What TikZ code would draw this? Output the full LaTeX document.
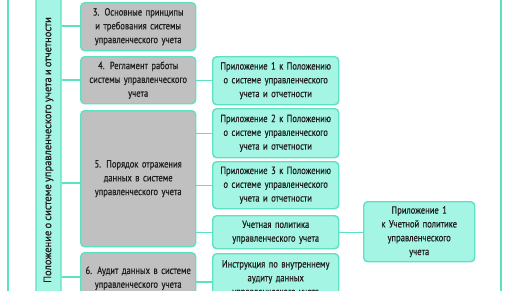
\documentclass[tikz,border=0pt]{standalone}
\usepackage{fontspec}
\setmainfont{PT Sans}[FakeStretch=0.82, WordSpace=0.7, FakeBold=0.5]
\newfontfamily\widefont{PT Sans}[FakeStretch=0.97, WordSpace=0.8, FakeBold=0.5]
\definecolor{tealline}{RGB}{92,226,194}
\definecolor{tealfill}{RGB}{164,245,228}
\definecolor{grayfill}{RGB}{192,192,192}
\definecolor{txt}{RGB}{30,30,30}
\tikzset{
  base/.style={draw=tealline, line width=1.4pt, rounded corners=4pt, align=center,
    inner sep=0pt, anchor=north west, text=txt,
    font=\fontsize{10.4}{13.8}\selectfont},
  gbox/.style={base, fill=grayfill},
  tbox/.style={base, fill=tealfill},
  conn/.style={draw=tealline, line width=1.4pt},
}
\begin{document}
\begin{tikzpicture}[x=1pt,y=-1pt]
\useasboundingbox (0,0) rectangle (516,290);
\clip (0,0) rectangle (516,290);
\fill[white] (0,0) rectangle (516,290);
% frame lines
\coordinate (lt) at (8,-5); \coordinate (lb) at (8,300);
\coordinate (rt) at (501,-5); \coordinate (rb) at (501,300);
\draw[conn] (lt) -- (lb);
\draw[conn] (rt) -- (rb);
% tall box
\node[base, fill=tealfill, anchor=center, rotate=90, minimum width=330pt, minimum height=25pt,
  font=\widefont\fontsize{10.8}{13}\selectfont]
  (tall) at (48.5,150) {Положение о системе управленческого учета и отчетности};
% gray boxes
\node[gbox, minimum width=115pt, minimum height=48pt, text width=110pt] (b3) at (80,2)
  {3. Основные принципы\\и требования системы\\управленческого учета};
\node[gbox, minimum width=115pt, minimum height=47pt, text width=110pt] (b4) at (80,56)
  {4. Регламент работы\\системы управленческого\\учета};
\node[gbox, minimum width=115pt, minimum height=136pt, text width=110pt] (b5) at (80,110)
  {5. Порядок отражения\\данных в системе\\управленческого учета};
\node[gbox, minimum width=115pt, minimum height=51pt, text width=110pt] (b6) at (80,252)
  {6. Аудит данных в системе\\управленческого учета};
% teal boxes
\node[tbox, minimum width=126pt, minimum height=48pt, text width=120pt] (a1) at (212,56)
  {Приложение 1 к Положению\\о системе управленческого\\учета и отчетности};
\node[tbox, minimum width=126pt, minimum height=49pt, text width=120pt] (a2) at (212,108)
  {Приложение 2 к Положению\\о системе управленческого\\учета и отчетности};
\node[tbox, minimum width=126pt, minimum height=47pt, text width=120pt] (a3) at (212,161)
  {Приложение 3 к Положению\\о системе управленческого\\учета и отчетности};
\node[tbox, minimum width=126pt, minimum height=33pt, text width=120pt] (up) at (212,215)
  {Учетная политика\\управленческого учета};
\node[tbox, minimum width=126pt, minimum height=50pt, text width=120pt] (ins) at (212,253)
  {Инструкция по внутреннему\\аудиту данных\\управленческого учета};
\node[tbox, minimum width=111pt, minimum height=60pt, text width=105pt] (r1) at (363,201)
  {Приложение 1\\к Учетной политике\\управленческого\\учета};
% connectors
\coordinate (y3) at (0,26); \coordinate (y4) at (0,80);
\coordinate (y5) at (0,183); \coordinate (y6) at (0,277);
\coordinate (y6b) at (0,282);
\draw[conn] (tall.south |- y3) -- (b3.west |- y3);
\draw[conn] (tall.south |- y4) -- (b4.west |- y4);
\draw[conn] (tall.south |- y5) -- (b5.west |- y5);
\draw[conn] (tall.south |- y6) -- (b6.west |- y6);
\draw[conn] (b4.east |- a1.west) -- (a1.west);
\draw[conn] (b5.east |- a2.west) -- (a2.west);
\draw[conn] (b5.east |- a3.west) -- (a3.west);
\draw[conn] (b5.east |- up.west) -- (up.west);
\draw[conn] (b6.east |- y6b) -- (ins.west |- y6b);
\draw[conn] (up.east) -- (r1.west |- up.east);
\end{tikzpicture}
\end{document}
